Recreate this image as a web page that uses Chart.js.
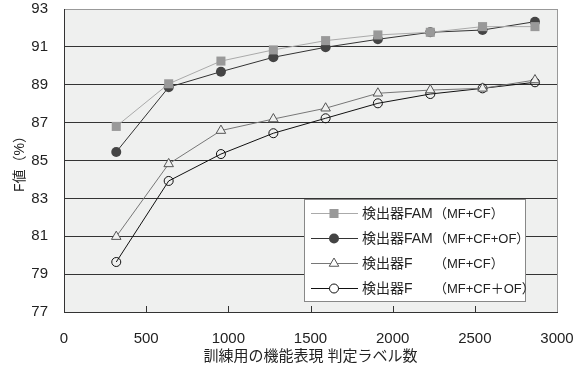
<!DOCTYPE html>
<html>
<head>
<meta charset="utf-8">
<script src="https://cdn.jsdelivr.net/npm/chart.js@4/dist/chart.umd.min.js"></script>
<style>
  body { margin: 0; background: #fff; }
</style>
</head>
<body>
<canvas id="myChart" width="584" height="369"></canvas>
<script>
// x: number of training labels
const labelCounts = [318, 637, 955, 1274, 1592, 1910, 2229, 2547, 2866];

const famMfCf   = [86.8, 89.05, 90.25, 90.84, 91.33, 91.63, 91.77, 92.07, 92.07];
const famMfCfOf = [85.45, 88.87, 89.69, 90.45, 90.98, 91.4, 91.77, 91.89, 92.33];
const fMfCf     = [80.98, 84.82, 86.58, 87.19, 87.76, 88.55, 88.72, 88.81, 89.25];
const fMfCfOf   = [79.64, 83.92, 85.34, 86.44, 87.23, 88.02, 88.51, 88.81, 89.13];

const seriesNames = ['検出器FAM', '検出器FAM', '検出器F', '検出器F'];
const seriesSpecs = ['（MF+CF）', '（MF+CF+OF）', '（MF+CF）', '（MF+CF＋OF）'];

const plotBg = '#eff0ef';

Chart.defaults.font.family = "'Liberation Sans', 'Noto Sans CJK JP', sans-serif";
Chart.defaults.color = '#222';

function pts(values) {
  return values.map((v, i) => ({ x: labelCounts[i], y: v }));
}

const data = {
  datasets: [
    {
      label: seriesNames[0] + seriesSpecs[0],
      data: pts(famMfCf),
      borderColor: '#aaaaaa',
      borderWidth: 1,
      pointStyle: 'rect',
      pointRadius: 6.4,
      pointBackgroundColor: '#999999',
      pointBorderColor: '#999999',
      pointBorderWidth: 0
    },
    {
      label: seriesNames[1] + seriesSpecs[1],
      data: pts(famMfCfOf),
      borderColor: '#333333',
      borderWidth: 1,
      pointStyle: 'circle',
      pointRadius: 5,
      pointBackgroundColor: '#444444',
      pointBorderColor: '#444444',
      pointBorderWidth: 0
    },
    {
      label: seriesNames[2] + seriesSpecs[2],
      data: pts(fMfCf),
      borderColor: '#777777',
      borderWidth: 1,
      pointStyle: 'triangle',
      pointRadius: 5.5,
      pointBackgroundColor: plotBg,
      pointBorderColor: '#555555',
      pointBorderWidth: 1
    },
    {
      label: seriesNames[3] + seriesSpecs[3],
      data: pts(fMfCfOf),
      borderColor: '#111111',
      borderWidth: 1,
      pointStyle: 'circle',
      pointRadius: 4.5,
      pointBackgroundColor: 'rgba(0,0,0,0)',
      pointBorderColor: '#111111',
      pointBorderWidth: 1
    }
  ]
};

// plot background + right border + inward x ticks
const frame = {
  id: 'frame',
  beforeDraw(chart) {
    const { ctx, chartArea: a } = chart;
    ctx.save();
    ctx.fillStyle = plotBg;
    ctx.fillRect(a.left, a.top, a.right - a.left, a.bottom - a.top);
    ctx.restore();
  },
  afterDatasetsDraw(chart) {
    const { ctx, chartArea: a, scales } = chart;
    ctx.save();
    ctx.strokeStyle = '#999';
    ctx.lineWidth = 1;
    ctx.beginPath();
    ctx.moveTo(a.right + 0.5, a.top);
    ctx.lineTo(a.right + 0.5, a.bottom);
    ctx.stroke();
    ctx.strokeStyle = '#333';
    scales.x.ticks.forEach(t => {
      if (t.value <= 0 || t.value >= 3000) return;
      const x = Math.round(scales.x.getPixelForValue(t.value)) + 0.5;
      ctx.beginPath();
      ctx.moveTo(x, a.bottom);
      ctx.lineTo(x, a.bottom - 6);
      ctx.stroke();
    });
    ctx.restore();
  }
};

// boxed legend inside the plot
const boxLegend = {
  id: 'boxLegend',
  afterDraw(chart) {
    const { ctx } = chart;
    const bx = 304.5, by = 199.5, bw = 221, bh = 102;
    ctx.save();
    ctx.fillStyle = '#fff';
    ctx.fillRect(bx, by, bw, bh);
    ctx.strokeStyle = '#888';
    ctx.lineWidth = 1;
    ctx.strokeRect(bx, by, bw, bh);
    const rows = [213, 238, 263, 288];
    chart.data.datasets.forEach((ds, i) => {
      const y = rows[i];
      ctx.strokeStyle = ds.borderColor;
      ctx.lineWidth = 1;
      ctx.beginPath();
      ctx.moveTo(311, y + 0.5);
      ctx.lineTo(358, y + 0.5);
      ctx.stroke();
      ctx.fillStyle = ds.pointBorderWidth > 0 ? '#fff' : ds.pointBackgroundColor;
      ctx.strokeStyle = ds.pointBorderColor;
      ctx.lineWidth = ds.pointBorderWidth;
      Chart.helpers.drawPoint(ctx, {
        pointStyle: ds.pointStyle,
        radius: ds.pointRadius,
        rotation: 0,
        borderWidth: ds.pointBorderWidth
      }, 334, y + 0.5);
      ctx.fillStyle = '#222';
      ctx.textBaseline = 'middle';
      ctx.font = "14px 'Liberation Sans', 'Noto Sans CJK JP', sans-serif";
      ctx.fillText(seriesNames[i], 362, y + 1);
      ctx.font = "13px 'Liberation Sans', 'Noto Sans CJK JP', sans-serif";
      ctx.fillText(seriesSpecs[i], 434, y + 1);
    });
    ctx.restore();
  }
};

const config = {
  type: 'line',
  data: data,
  options: {
    responsive: false,
    animation: false,
    layout: { padding: { top: 9, right: 27, left: 0, bottom: 0 } },
    plugins: {
      legend: { display: false },
      tooltip: { enabled: false }
    },
    scales: {
      x: {
        type: 'linear',
        min: 0,
        max: 3000,
        ticks: {
          stepSize: 500, padding: 18, font: { size: 15 }, color: '#222',
          callback: v => String(v)
        },
        grid: { display: false, drawTicks: false },
        border: { color: '#333' },
        title: {
          display: true,
          text: '訓練用の機能表現 判定ラベル数',
          font: { size: 15 },
          color: '#222',
          padding: { top: 0, bottom: 3 }
        },
        afterFit: s => {
          s.height = 57;
          s.paddingLeft = 0;
          s.paddingRight = 0;
        }
      },
      y: {
        min: 77,
        max: 93,
        ticks: { stepSize: 2, padding: 16, font: { size: 15 }, color: '#222' },
        grid: {
          drawTicks: false,
          color: c => (c.tick && c.tick.value === 93 ? '#999' : '#333')
        },
        border: { color: '#333' },
        title: {
          display: true,
          text: 'F値（%）',
          font: { size: 14 },
          color: '#222',
          padding: { top: 12, bottom: 0 }
        },
        afterFit: s => {
          s.width = 64;
          s.paddingTop = 0;
          s.paddingBottom = 0;
        }
      }
    }
  },
  plugins: [frame, boxLegend]
};

const myChart = new Chart(document.getElementById('myChart'), config);
</script>
</body>
</html>
